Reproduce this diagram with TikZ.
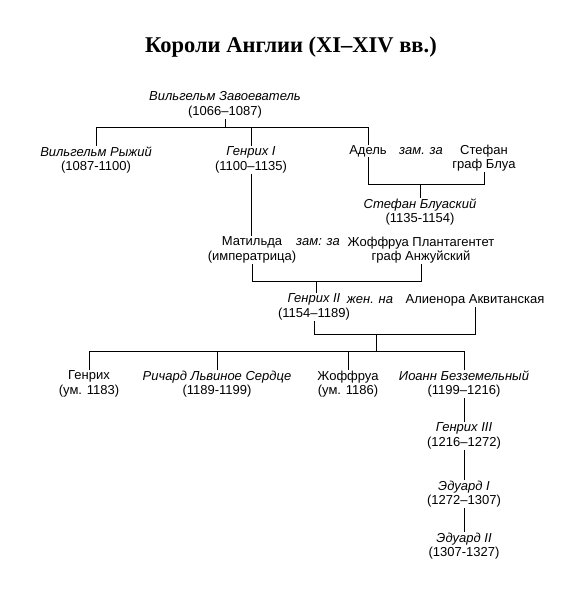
\documentclass[tikz,border=0pt]{standalone}
\usepackage{fontspec}
\setmainfont{Liberation Sans}
\newfontfamily\titlefont{Liberation Serif}
\begin{document}
\begin{tikzpicture}[x=1pt,y=-1pt,
  every node/.style={inner sep=0.5pt, align=center, font=\fontsize{13}{14.5}\selectfont},
  ln/.style={line width=0.85pt, black}]
\fill[white] (0,0) rectangle (586,614);
\useasboundingbox (0,0) rectangle (586,614);
\node[font=\titlefont\bfseries\fontsize{22.5}{25}\selectfont] (title) at (291,47) {Короли Англии (XI–XIV вв.)};
% people
\node (wz) at (225,105) {\textit{Вильгельм Завоеватель}\\(1066–1087)};
\node (wr) at (96,160) {\textit{Вильгельм Рыжий}\\(1087-1100)};
\node (h1) at (251,160) {\textit{Генрих I}\\(1100–1135)};
\node (adele) at (368,151) {Адель};
\node (zam1) at (421,151) {\textit{зам. за}};
\node (stefan) at (484,158) {Стефан\\граф Блуа};
\node (sb) at (420,212) {\textit{Стефан Блуаский}\\(1135-1154)};
\node (matilda) at (252,250) {Матильда\\(императрица)};
\node (zam2) at (318,242) {\textit{зам: за}};
\node (geoffrey) at (421,250) {Жоффруа Плантагентет\\граф Анжуйский};
\node (h2) at (314,307) {\textit{Генрих II}\\(1154–1189)};
\node (zhen) at (370,300) {\textit{жен. на}};
\node (alienora) at (475,300) {Алиенора Аквитанская};
\node (henry) at (89,384) {Генрих\\(ум. 1183)};
\node (richard) at (217,384) {\textit{Ричард Львиное Сердце}\\(1189-1199)};
\node (geoff2) at (348,384) {Жоффруа\\(ум. 1186)};
\node (john) at (464,384) {\textit{Иоанн Безземельный}\\(1199–1216)};
\node (h3) at (464,436) {\textit{Генрих III}\\(1216–1272)};
\node (e1) at (464,494) {\textit{Эдуард I}\\(1272–1307)};
\node (e2) at (464,546) {\textit{Эдуард II}\\(1307-1327)};
% connectors
\coordinate (y1) at (0,127);
\draw[ln] (wz.south) -- (wz.south |- y1);
\draw[ln] (wr.north) -- (wr.north |- y1) -- (adele.north |- y1) -- (adele.north);
\draw[ln] (h1.north |- y1) -- (h1.north);
\coordinate (y2) at (0,184);
\draw[ln] (adele.south) -- (adele.south |- y2) -- (stefan.south |- y2) -- (stefan.south);
\draw[ln] (sb.north |- y2) -- (sb.north);
\draw[ln] (h1.south) -- (h1.south |- matilda.north);
\coordinate (y3) at (0,281);
\draw[ln] (matilda.south) -- (matilda.south |- y3) -- (geoffrey.south |- y3) -- (geoffrey.south);
\coordinate (x3) at (316,281);
\draw[ln] (x3) -- (x3 |- h2.north);
\coordinate (y4) at (0,334);
\draw[ln] (h2.south) -- (h2.south |- y4) -- (alienora.south |- y4) -- (alienora.south);
\coordinate (x4) at (376,334);
\coordinate (y5) at (0,351);
\draw[ln] (x4) -- (x4 |- y5);
\draw[ln] (henry.north) -- (henry.north |- y5) -- (john.north |- y5) -- (john.north);
\draw[ln] (richard.north |- y5) -- (richard.north);
\draw[ln] (geoff2.north |- y5) -- (geoff2.north);
\draw[ln] (john.south) -- (h3.north);
\draw[ln] (h3.south) -- (e1.north);
\draw[ln] (e1.south) -- (e2.north);
\end{tikzpicture}
\end{document}
